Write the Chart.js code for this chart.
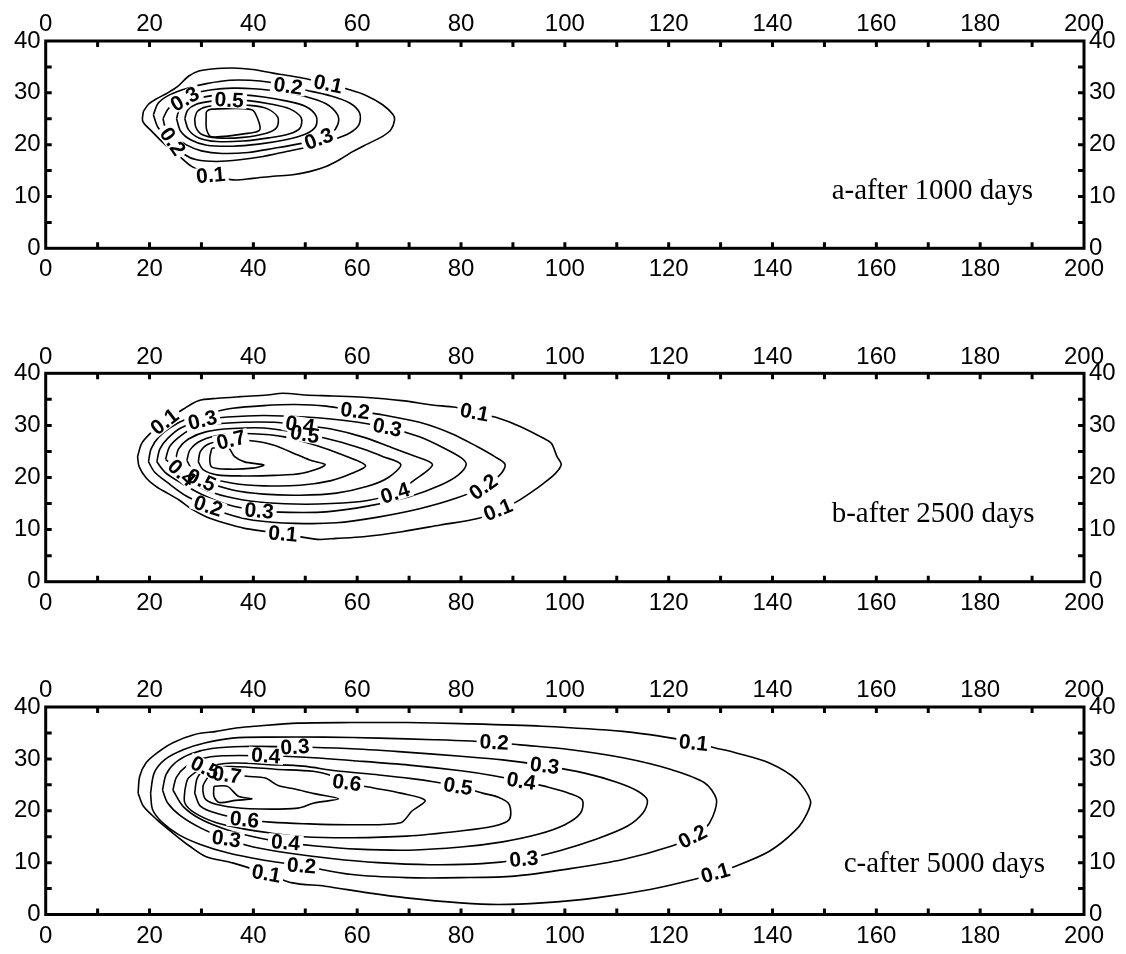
<!DOCTYPE html>
<html><head><meta charset="utf-8">
<script src="https://cdn.jsdelivr.net/npm/chart.js@4.4.1/dist/chart.umd.min.js"></script>
<style>
html,body{margin:0;padding:0;background:#fff;}
body{width:1126px;height:954px;position:relative;overflow:hidden;}
canvas{position:absolute;left:0;}
</style></head><body>
<canvas id="pa" width="1126" height="292" style="top:0px"></canvas>
<canvas id="pb" width="1126" height="292" style="top:332px"></canvas>
<canvas id="pc" width="1126" height="288" style="top:666px"></canvas>
<script>
// ---------- tick labels ----------
const xTicks = [0,20,40,60,80,100,120,140,160,180,200];
const yTicks = [0,10,20,30,40];
const xMinor = [10,20,30,40,50,60,70,80,90,100,110,120,130,140,150,160,170,180,190];
const yMinor = [5,10,15,20,25,30,35];
const levels = ['0.1','0.2','0.3','0.4','0.5','0.6','0.7','0.8'];
const panelTitles = ['a-after 1000 days','b-after 2500 days','c-after 5000 days'];

// ---------- panel a contours (x, y) ----------
const a1 = [[18.8,26.4],[19.8,27.8],[21.1,28.7],[23.5,30.0],[25.5,31.3],[27.5,33.2],[29.5,34.2],[32,34.6],[36.1,34.8],[39.9,34.5],[43.8,33.8],[46.3,33.4],[50.2,32.7],[54.4,31.7],[58.5,30.6],[61.7,29.5],[64.9,27.7],[66.9,25.8],[67.2,24.8],[66.5,22.9],[64.9,21.6],[61.7,20.0],[59.2,18.7],[56.6,17.1],[54.0,15.8],[50.8,14.8],[47.6,14.2],[43.8,13.9],[39.9,13.5],[36.1,13.2],[31.8,14.1],[28.1,15.8],[25.5,18.0],[23.0,20.0],[20.4,22.6],[18.7,24.5]];
const a2 = [[20.74,25.78],[21.7,28.04],[23.94,29.65],[27.47,30.94],[30.99,31.78],[35.48,32.42],[39.33,32.42],[43.17,32.04],[46.7,31.3],[50.22,30.49],[54.71,29.46],[58.56,28.04],[60.48,26.1],[60.35,23.85],[58.56,22.24],[55.35,20.95],[50.86,19.66],[46.38,18.69],[41.89,17.72],[37.4,17.08],[32.92,16.76],[29.07,17.08],[26.83,18.05],[24.45,20.6],[21.7,23.2]];
const a3 = [[22.6,25],[23.5,26.8],[25,28],[26.8,28.9],[29,30.0],[32,30.6],[36,30.9],[40,30.8],[45,30.3],[50,29.3],[54,27.9],[56.2,25.8],[56.3,24],[55,22.2],[52.6,21.1],[49,20.2],[44,19.3],[39,18.5],[34,18.3],[30,18.8],[27,20.0],[24.5,21.8],[23,23.5]];
const a4 = [[25.2,25],[25.8,26.9],[27.5,28.2],[30,29.1],[34,29.6],[38,29.6],[42,29.2],[46,28.5],[50,27.4],[52.1,25.5],[52,23.5],[50,22],[46,20.9],[41,20.1],[36,19.7],[31,19.9],[28,20.9],[26,22.6]];
const a5 = [[26.8,25],[27.3,26.6],[29,27.8],[32,28.4],[35.35,28.6],[39,28.5],[43,27.9],[47,26.9],[49.2,25.2],[49,23.2],[47,22.1],[43,21.3],[38,20.7],[33,20.6],[29.5,21.3],[27.5,22.9]];
const a6 = [[28.7,25],[29.2,26.4],[31,27.3],[35,27.7],[39,27.6],[42.5,27],[44.7,25.3],[44.5,23.3],[42.5,22.2],[38,21.4],[33,21.3],[30,22],[28.9,23.4]];
const a7 = [[30.9,25.5],[31.0,26.4],[32.0,26.85],[39.7,26.75],[40.9,24.8],[41.25,22.9],[40.0,22.35],[32.0,21.5],[31.0,22.9]];
const contoursA = [a1,a2,a3,a4,a5,a6,a7];
const labelsA = [['0.1',54.4,31.7,12],['0.2',46.7,31.3,8],['0.3',26.8,28.8,-30],['0.5',35.35,28.6,3],['0.3',52.6,21.1,-20],['0.2',24.45,20.6,55],['0.1',31.8,14.1,-5]];

// ---------- panel b contours ----------
const b1 = [[17.7,24.0],[18.5,26.56],[20.5,28.8],[22.9,30.7],[26.46,33.09],[29.42,34.75],[33.11,35.2],[37.55,35.52],[42.72,35.84],[45.68,36.16],[50.11,35.84],[55.28,35.65],[61.2,35.39],[68.59,34.75],[74.5,33.92],[78.94,33.47],[82.6,32.5],[86.7,31.55],[91.5,29.76],[95.9,27.52],[97.4,26.56],[98.5,24.0],[99.3,22.53],[98.2,20.8],[95.9,18.88],[93.7,17.28],[90.4,15.17],[87.1,13.8],[83.4,12.16],[76.0,10.88],[68.6,9.6],[61.2,8.64],[56.0,8.32],[52.3,8.13],[45.7,9.2],[42.7,9.6],[38.3,10.24],[34.6,11.2],[30.9,12.48],[27.9,14.08],[25.7,15.68],[23.5,16.96],[21.3,18.24],[19.4,19.84],[18.0,22.08]];
const b2 = [[19.8,23],[20.3,25.5],[21.8,27.8],[24,29.6],[27,31.2],[31,32.3],[36,33.3],[42,33.8],[48,34.0],[54,33.7],[59.6,32.8],[65,32],[72,30.6],[78,28.5],[83,26],[86.5,24],[88.5,22.5],[87.5,20.5],[84.3,18.2],[79,16],[72,14],[64,12.4],[56,11.3],[48,11.2],[40,11.8],[35,13],[31.3,14.5],[27,16.5],[23.5,19],[21,21]];
const b3 = [[21.4,23],[22,25.5],[23.5,27.5],[26,29.5],[30.2,31.0],[35,31.6],[42,31.9],[50,31.6],[58,30.9],[65.8,29.6],[72,27.8],[77,25.5],[80,23.8],[81,22.5],[79.5,20.5],[76,18.5],[70,16.3],[62,14.5],[54,13.4],[47,13.3],[41.1,13.6],[35,14.8],[30,16.8],[26,19],[23,21]];
const b4 = [[23.1,23.5],[23.8,25.8],[25.5,27.6],[28,29.2],[32,30.2],[38,30.6],[44,30.6],[49,30.1],[55,29.3],[61,27.8],[66,26],[70.5,24.3],[74.5,22.5],[71,19.5],[67.3,17.0],[62,15.6],[55,15],[48,14.9],[41,15.3],[35,16.3],[30,18],[26.2,20.9]];
const b5 = [[25,23.3],[25.6,25.5],[27.5,27.4],[31,28.8],[36,29.4],[42,29.5],[49.7,28.4],[56,27],[61,25.5],[65,24],[68.4,22.5],[66,20],[62,18.3],[56,17],[49,16.6],[42,16.8],[36,17.6],[30,19.5],[27,21.2]];
const b6 = [[27.2,23.3],[27.8,25.3],[30,27.1],[34,28.2],[40,28.4],[46,27.8],[52,26.2],[57,24.4],[61.6,22.3],[59,20.8],[55,19.4],[49,18.5],[42,18.4],[36,18.9],[31,20.1],[28.2,21.6]];
const b7 = [[29.4,23],[29.8,25],[31.5,26.5],[35.7,27.2],[40,27],[44,26.2],[48.6,24.3],[51,23.3],[53.8,22.4],[49.4,20.8],[44,20.4],[38,20.3],[33,20.5],[30.3,21.5]];
const b8 = [[32.0,25.6],[35.0,25.9],[36.4,24.0],[38.3,23.0],[42.0,22.4],[39.8,21.8],[35.3,21.6],[32.0,22.0],[31.6,23.7]];
const contoursB = [b1,b2,b3,b4,b5,b6,b7,b8];
const labelsB = [['0.1',22.9,30.7,-38],['0.3',30.2,31.0,-14],['0.2',59.6,32.8,7],['0.4',49.0,30.1,9],['0.5',49.9,28.3,10],['0.3',65.8,29.6,11],['0.1',82.6,32.5,11],['0.7',35.7,27.2,-14],['0.4',26.2,20.9,42],['0.5',30.0,19.5,24],['0.2',31.3,14.5,18],['0.3',41.1,13.6,5],['0.4',67.3,17.0,-18],['0.2',84.3,18.2,-36],['0.1',87.1,13.8,-22],['0.1',45.7,9.2,5]];

// ---------- panel c contours ----------
const c1 = [[17.8,23.4],[18.1,26.6],[19.3,29.2],[21.4,31.1],[24.5,33.1],[28.7,34.7],[32.9,35.3],[37.1,36.0],[40.2,36.3],[48.6,36.9],[59.0,37.0],[69.5,37.0],[79.9,36.8],[95.6,36.3],[111.2,35.3],[120.6,34.0],[124.8,33.1],[129.0,32.1],[133.2,31.1],[139.4,29.2],[144.6,26.0],[147.3,22.0],[146.7,19.6],[144.6,16.4],[139.4,12.2],[132.1,9.0],[129.0,8.0],[124.8,6.74],[116.4,4.82],[106.0,3.21],[95.6,2.25],[87.2,1.93],[79.9,2.25],[69.5,3.21],[62.1,4.17],[53.8,5.46],[47.5,6.1],[42.5,7.9],[36.0,9.95],[30.8,11.2],[27.7,13.2],[24.5,15.7],[21.4,18.3],[18.8,20.9]];
const c2 = [[20.2,23.4],[20.9,27.3],[23.0,29.9],[26.6,31.8],[30.8,33.1],[36.0,34.0],[43.3,34.2],[53.8,34.2],[64.2,34.0],[74.7,33.7],[86.4,33.2],[91.4,32.7],[100.8,31.8],[111.2,30.2],[120.6,27.9],[126.9,25.4],[129.2,22.2],[128.5,18.9],[126.9,16.4],[124.6,15.0],[120.6,13.2],[111.2,10.6],[100.8,8.8],[90.3,7.4],[79.9,7.1],[69.5,7.1],[59.0,7.7],[49.3,9.4],[41.3,10.6],[35.0,11.9],[29.8,13.5],[25.6,15.4],[22.5,17.7],[20.6,20.2]];
const c3 = [[22.5,24],[23.2,27],[25,29.3],[28,31],[32,32],[38,32.4],[48,32.3],[58,32.0],[68,31.4],[80,30.5],[88,29.8],[96.1,28.7],[104,27.2],[110,25.5],[114,23.8],[115.9,22],[115,19.5],[112,17],[106,14.5],[99,12.3],[92.1,10.7],[84,9.8],[74,9.6],[64,10],[55,10.8],[47,11.8],[40,13],[34.8,14.6],[30,16.6],[26,19],[23.5,21.5]];
const c4 = [[24.5,24],[25.2,26.5],[27,28.5],[30,30],[34,30.6],[42.4,30.6],[50,30.3],[60,29.6],[70,28.8],[80,27.7],[86,26.8],[91.6,25.7],[97,24.5],[101,23.3],[103.4,22],[103,19.5],[100,17.3],[95,15.5],[88,14],[80,13],[70,12.4],[60,12.6],[52,13.2],[46.2,13.9],[40,15],[35,16.3],[30,18.3],[26.5,20.8]];
const c5 = [[26.8,24],[27.5,26.3],[30.7,28.3],[36.0,29.2],[43.3,28.9],[49.6,28.6],[55.9,27.7],[64.2,26.9],[70.5,26.2],[74.7,25.6],[79.4,24.7],[84.1,23.4],[87.2,22.6],[89.3,21.2],[89.3,18.3],[86.2,17.0],[79.9,16.1],[69.5,15.1],[59.0,14.8],[49.6,15.0],[43.3,15.7],[38.1,16.5],[32.9,17.7],[28.7,19.6],[26.8,21.5]];
const c6 = [[28.7,23.4],[29.2,26.3],[30.8,27.9],[34.8,28.5],[39.0,28.4],[44.2,28.0],[51.5,27.6],[55.5,26.6],[58.0,25.4],[63.2,24.4],[68.4,23.4],[73.1,22.0],[70.5,19.9],[68.4,17.7],[59.0,17.3],[49.6,17.5],[43.3,17.8],[38.3,18.3],[32.9,19.5],[29.8,20.9]];
const c7 = [[31.3,26.6],[35.0,26.9],[39.2,26.6],[42.3,26.3],[44.9,24.8],[48.0,24.2],[51.7,23.3],[56.4,22.3],[51.7,21.5],[48.6,20.5],[39.2,20.4],[33.9,21.0],[30.8,22.2],[30.3,24.7]];
const c8 = [[32.4,24.7],[35.0,24.7],[37.1,22.8],[39.7,22.3],[36.6,22.0],[33.4,21.6],[32.4,22.8]];
const contoursC = [c1,c2,c3,c4,c5,c6,c7,c8];
const labelsC = [['0.1',124.8,33.1,6],['0.2',86.4,33.2,3],['0.3',48.0,32.3,-3],['0.4',42.4,30.6,4],['0.5',30.7,28.3,26],['0.7',34.9,26.9,8],['0.6',58.0,25.4,8],['0.5',79.4,24.7,9],['0.4',91.6,25.7,9],['0.3',96.1,28.7,7],['0.6',38.3,18.3,6],['0.3',34.8,14.6,8],['0.4',46.2,13.9,5],['0.1',42.5,7.9,10],['0.2',49.3,9.4,4],['0.3',92.1,10.7,-5],['0.2',124.6,15.0,-27],['0.1',129.0,8.0,-16]];

// anchor (data coords) of the panel captions
const titleAnchors = [[151.4,9.5],[151.4,11.5],[153.7,8.1]];

// ---------- rendering ----------
const TICK_FONT = {family:'"Liberation Sans", Arial, sans-serif', size:24};
const LABEL_FONT = 'bold 21px "Liberation Sans", Arial, sans-serif';
const TITLE_FONT = '29px "Liberation Serif", "Times New Roman", serif';

const decoPlugin = {
  id:'deco',
  afterDatasetsDraw(chart, args, opts){
    const {ctx, chartArea:a, scales} = chart;
    const xs = scales.x, ys = scales.y;
    ctx.save();
    ctx.font = LABEL_FONT; ctx.textAlign='center'; ctx.textBaseline='middle';
    const place = (t,x,y,ang,fn)=>{
      const px = xs.getPixelForValue(x), py = ys.getPixelForValue(y);
      ctx.save(); ctx.translate(px,py); ctx.rotate(ang*Math.PI/180); fn(ctx.measureText(t).width); ctx.restore();
    };
    ctx.fillStyle='#fff';
    for (const [t,x,y,ang] of opts.labels) place(t,x,y,ang,w=>ctx.fillRect(-w/2-3,-8,w+6,16));
    ctx.fillStyle='#000';
    for (const [t,x,y,ang] of opts.labels) place(t,x,y,ang,()=>ctx.fillText(t,0,1));
    ctx.font = TITLE_FONT; ctx.textAlign='left'; ctx.textBaseline='alphabetic';
    ctx.fillText(opts.title, xs.getPixelForValue(opts.anchor[0]), ys.getPixelForValue(opts.anchor[1]));
    ctx.strokeStyle='#000'; ctx.lineWidth=3;
    ctx.strokeRect(a.left, a.top, a.right-a.left, a.bottom-a.top);
    ctx.beginPath();
    for (const v of xMinor){ const p=xs.getPixelForValue(v); ctx.moveTo(p,a.top); ctx.lineTo(p,a.top+6); ctx.moveTo(p,a.bottom); ctx.lineTo(p,a.bottom-6); }
    for (const v of yMinor){ const p=ys.getPixelForValue(v); ctx.moveTo(a.left,p); ctx.lineTo(a.left+6,p); ctx.moveTo(a.right,p); ctx.lineTo(a.right-6,p); }
    ctx.stroke();
    ctx.restore();
  }
};

function axis(position, ticksArr, min, max, pad, fit){
  return {
    type:'linear', position, min, max,
    grid:{display:false, drawTicks:false},
    border:{display:false},
    afterBuildTicks(s){ s.ticks = ticksArr.map(v=>({value:v})); },
    afterFit(s){ fit(s); },
    ticks:{font:TICK_FONT, color:'#000', padding:pad, autoSkip:false, maxRotation:0, callback:v=>String(v)}
  };
}

function makePanel(id, contours, labels, idx, topH, botH){
  new Chart(document.getElementById(id), {
    type:'scatter',
    data:{datasets: contours.map((pts,i)=>({
      label: levels[i],
      data: pts.concat([pts[0]]).map(([x,y])=>({x,y})),
      showLine:true, borderColor:'#000', borderWidth:1.6, pointRadius:0, fill:false, tension:0.3
    }))},
    options:{
      responsive:false, animation:false, events:[],
      layout:{padding:0},
      plugins:{legend:{display:false}, tooltip:{enabled:false},
        deco:{labels, title:panelTitles[idx], anchor:titleAnchors[idx]}},
      scales:{
        x: axis('bottom', xTicks, 0, 200, 7, s=>{s.height=botH;}),
        x2: axis('top', xTicks, 0, 200, 2, s=>{s.height=topH;}),
        y: axis('left', yTicks, 0, 40, 5, s=>{s.width=45.7;}),
        y2: axis('right', yTicks, 0, 40, 5, s=>{s.width=42;})
      }
    },
    plugins:[decoPlugin]
  });
}

makePanel('pa', contoursA, labelsA, 0, 41, 43.7);
makePanel('pb', contoursB, labelsB, 1, 41.3, 42.3);
makePanel('pc', contoursC, labelsC, 2, 41, 39.5);
</script>
</body></html>
